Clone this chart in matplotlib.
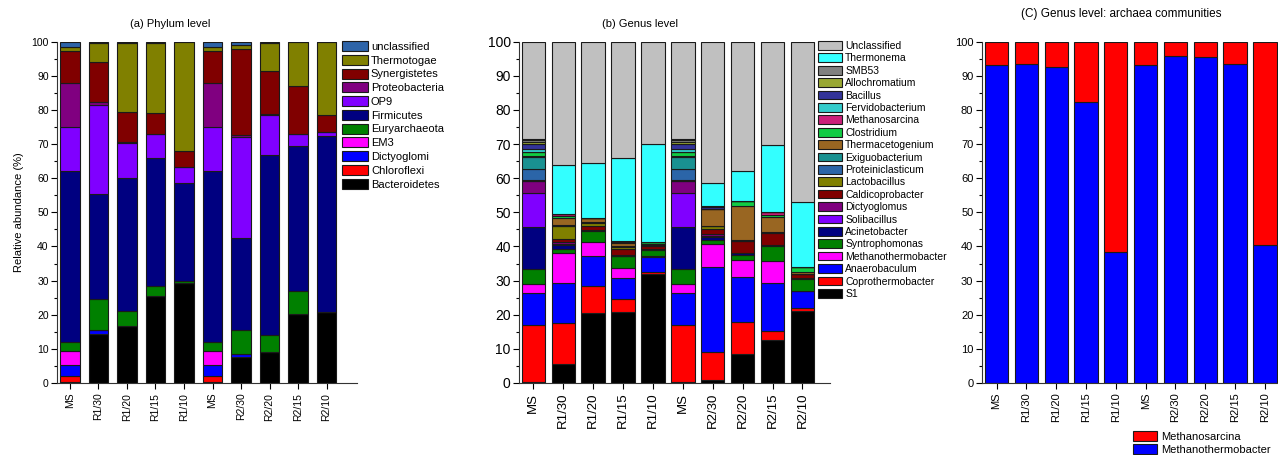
import numpy as np
import matplotlib
matplotlib.use('Agg')
import matplotlib.pyplot as plt
from matplotlib.patches import Patch
from matplotlib.ticker import MultipleLocator

plt.rcParams['font.family'] = ['Liberation Sans', 'DejaVu Sans']

W, H = 1278, 455

samples = ['MS', 'R1/30', 'R1/20', 'R1/15', 'R1/10', 'MS', 'R2/30', 'R2/20', 'R2/15', 'R2/10']

# (a) phylum level, bottom to top
bacteroidetes = [0.3, 14.4, 16.6, 25.4, 29.3, 0.3, 7.5, 9.0, 20.3, 20.8]
chloroflexi = [1.7, 0, 0, 0, 0, 1.7, 0, 0, 0, 0]
dictyoglomi = [3.4, 1.0, 0, 0, 0, 3.4, 1.1, 0, 0, 0]
em3 = [3.9, 0, 0, 0, 0, 3.9, 0, 0, 0, 0]
euryarchaeota = [2.7, 9.2, 4.4, 3.1, 0.5, 2.7, 7.0, 5.0, 6.8, 0]
firmicutes = [50.0, 30.8, 39.0, 37.5, 28.9, 50.0, 26.8, 52.8, 42.4, 51.5]
op9 = [13.1, 26.1, 10.4, 6.9, 4.7, 13.1, 29.8, 11.7, 3.5, 1.2]
proteobacteria = [12.9, 0.9, 0.2, 0, 0, 12.9, 0.5, 0.3, 0, 0]
synergistetes = [9.4, 11.6, 8.7, 6.1, 4.5, 9.4, 25.1, 12.5, 14.1, 4.9]
thermotogae = [1.1, 5.7, 20.4, 20.7, 32.1, 1.1, 1.1, 8.4, 12.9, 21.6]
phylum_unclassified = [1.5, 0.3, 0.3, 0.3, 0, 1.5, 1.1, 0.3, 0, 0]

phylum_names = ['Bacteroidetes', 'Chloroflexi', 'Dictyoglomi', 'EM3', 'Euryarchaeota', 'Firmicutes',
                'OP9', 'Proteobacteria', 'Synergistetes', 'Thermotogae', 'unclassified']
phylum_values = [bacteroidetes, chloroflexi, dictyoglomi, em3, euryarchaeota, firmicutes,
                 op9, proteobacteria, synergistetes, thermotogae, phylum_unclassified]
phylum_colors = ['#000000', '#FF0000', '#0000FF', '#FF00FF', '#008000', '#000080',
                 '#8000FF', '#800080', '#800000', '#808000', '#2E64A8']

# (b) genus level, bottom to top
s1 = [0.2, 5.6, 20.5, 20.8, 31.9, 0.2, 1.0, 8.6, 12.7, 21.2]
coprothermobacter = [16.9, 12.0, 8.0, 3.8, 0.7, 16.9, 8.0, 9.4, 2.6, 0.9]
anaerobaculum = [9.4, 11.7, 8.6, 6.1, 4.4, 9.4, 25.0, 13.0, 14.0, 4.9]
methanothermobacter = [2.5, 8.7, 4.2, 2.9, 0.2, 2.5, 6.8, 5.0, 6.3, 0]
syntrophomonas = [4.5, 1.3, 3.3, 3.5, 1.8, 4.5, 1.0, 1.6, 4.6, 3.6]
acinetobacter = [12.1, 1.1, 0.1, 0.1, 0.2, 12.1, 1.0, 0.4, 0.2, 0.2]
solibacillus = [10.2, 0.3, 0.1, 0.1, 0, 10.2, 0.2, 0, 0, 0]
dictyoglomus = [3.4, 0.6, 0.1, 0.1, 0, 3.4, 0.6, 0, 0, 0]
caldicoprobacter = [0.1, 1.0, 1.0, 1.8, 0.8, 0.1, 1.5, 3.6, 3.6, 1.1]
lactobacillus = [0.1, 3.6, 1.1, 0.6, 0.2, 0.1, 0.8, 0.1, 0.1, 0.1]
proteiniclasticum = [3.2, 0.2, 0.2, 0.2, 0.2, 3.2, 0.1, 0.1, 0, 0]
exiguobacterium = [3.6, 0.1, 0.1, 0.2, 0, 3.6, 0.1, 0, 0, 0]
thermacetogenium = [0.2, 2.2, 1.1, 0.8, 0.3, 0.2, 5.0, 10.0, 4.6, 0.5]
clostridium = [1.3, 0.6, 0, 0.2, 0.5, 1.3, 0, 1.6, 0.6, 1.4]
methanosarcina = [0.1, 0.4, 0, 0.4, 0, 0.1, 0, 0, 0.7, 0]
fervidobacterium = [0.7, 0, 0, 0, 0, 0.7, 0, 0, 0, 0.2]
bacillus = [1.6, 0, 0, 0, 0, 1.6, 0.4, 0, 0, 0]
allochromatium = [0.5, 0, 0, 0, 0, 0.5, 0, 0, 0, 0]
smb53 = [0.7, 0, 0, 0, 0, 0.7, 0.3, 0, 0, 0]
thermonema = [0.1, 14.4, 16.2, 24.3, 28.8, 0.1, 6.8, 8.7, 19.7, 19.0]
genus_unclassified = [28.6, 36.2, 35.4, 34.1, 30.0, 28.6, 41.4, 37.9, 30.3, 46.9]

genus_names = ['S1', 'Coprothermobacter', 'Anaerobaculum', 'Methanothermobacter', 'Syntrophomonas',
               'Acinetobacter', 'Solibacillus', 'Dictyoglomus', 'Caldicoprobacter', 'Lactobacillus',
               'Proteiniclasticum', 'Exiguobacterium', 'Thermacetogenium', 'Clostridium',
               'Methanosarcina', 'Fervidobacterium', 'Bacillus', 'Allochromatium', 'SMB53',
               'Thermonema', 'Unclassified']
genus_values = [s1, coprothermobacter, anaerobaculum, methanothermobacter, syntrophomonas,
                acinetobacter, solibacillus, dictyoglomus, caldicoprobacter, lactobacillus,
                proteiniclasticum, exiguobacterium, thermacetogenium, clostridium,
                methanosarcina, fervidobacterium, bacillus, allochromatium, smb53,
                thermonema, genus_unclassified]
genus_colors = ['#000000', '#FF0000', '#0000FF', '#FF00FF', '#008000',
                '#000080', '#8000FF', '#800080', '#800000', '#808000',
                '#2B65A8', '#199191', '#996622', '#11CC44',
                '#CC1F7A', '#33CCCC', '#333399', '#99A833', '#808080',
                '#33FFFF', '#C0C0C0']

# (c) archaea communities
archaea_methanothermobacter = [93.2, 93.5, 92.5, 82.2, 38.3, 93.2, 95.8, 95.6, 93.5, 40.5]
archaea_methanosarcina = [6.8, 6.5, 7.5, 17.8, 61.7, 6.8, 4.2, 4.4, 6.5, 59.5]


def px_axes(fig, left, right, top, bottom):
    return fig.add_axes([left / W, 1 - bottom / H, (right - left) / W, (bottom - top) / H])


def style_axes(ax, xlim, ytick_size, xtick_size):
    ax.set_xlim(*xlim)
    ax.set_ylim(0, 100)
    ax.spines['top'].set_visible(False)
    ax.spines['right'].set_visible(False)
    for s in ['left', 'bottom']:
        ax.spines[s].set_linewidth(0.8)
        ax.spines[s].set_color('#333333')
    ax.yaxis.set_major_locator(MultipleLocator(10))
    ax.yaxis.set_minor_locator(MultipleLocator(5))
    ax.tick_params(axis='y', which='major', length=4, width=0.8, labelsize=ytick_size, pad=2)
    ax.tick_params(axis='y', which='minor', length=2, width=0.8)
    ax.set_xticks(range(len(samples)))
    ax.set_xticklabels(samples, rotation=90, fontsize=xtick_size)
    ax.tick_params(axis='x', length=4, width=0.8, pad=3)


def stack(ax, values, colors, width):
    x = np.arange(len(samples))
    bottom = np.zeros(len(samples))
    for vals, col in zip(values, colors):
        vals = np.array(vals, dtype=float)
        ax.bar(x, vals, width, bottom=bottom, color=col, edgecolor='#1a1a1a', linewidth=0.8)
        bottom += vals


def legend(fig, names, colors, x, y, size, spacing, hlen, hheight):
    handles = [Patch(facecolor=c, edgecolor='#1a1a1a', linewidth=0.8) for c in colors]
    fig.legend(handles, names, loc='upper left', bbox_to_anchor=(x / W, 1 - y / H),
               frameon=False, fontsize=size, borderaxespad=0, borderpad=0,
               labelspacing=spacing, handlelength=hlen, handleheight=hheight, handletextpad=0.3)


fig = plt.figure(figsize=(W / 100, H / 100), dpi=100)

# (a) phylum
ax1 = px_axes(fig, 57, 357, 41.7, 383)
stack(ax1, phylum_values, phylum_colors, 0.7)
style_axes(ax1, (-0.456, 10.07), 7.5, 7.5)
ax1.set_ylabel('Relative abundance (%)', fontsize=8, labelpad=5)
legend(fig, phylum_names[::-1], phylum_colors[::-1], 342, 41, 8, 0.27, 2.3, 1.0)
fig.text(170 / W, 1 - 24 / H, '(a) Phylum level', ha='center', va='center', fontsize=8)

# (b) genus
ax2 = px_axes(fig, 519, 830, 41.7, 383)
stack(ax2, genus_values, genus_colors, 0.78)
style_axes(ax2, (-0.478, 9.92), 10, 9.5)
legend(fig, genus_names[::-1], genus_colors[::-1], 818, 41, 7.5, 0.23, 2.3, 0.9)
fig.text(640 / W, 1 - 24 / H, '(b) Genus level', ha='center', va='center', fontsize=8)

# (c) archaea
ax3 = px_axes(fig, 981.7, 1278, 41.7, 383)
stack(ax3, [archaea_methanothermobacter, archaea_methanosarcina], ['#0000FF', '#FF0000'], 0.78)
style_axes(ax3, (-0.5, 9.44), 8, 8)
legend(fig, ['Methanosarcina', 'Methanothermobacter'], ['#FF0000', '#0000FF'], 1133, 431, 8, 0.22, 2.2, 0.95)
fig.text(1121 / W, 1 - 14 / H, '(C) Genus level: archaea communities', ha='center', va='center', fontsize=8.5)

fig.savefig('out.png', dpi=100)
